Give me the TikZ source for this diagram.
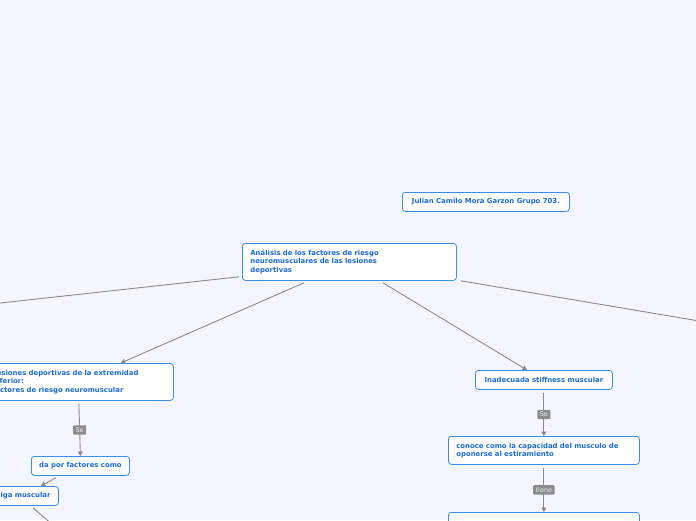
\documentclass[tikz,border=0pt]{standalone}
\usepackage{fontspec}
\setmainfont{DejaVu Sans}
\usetikzlibrary{arrows.meta,positioning,calc}
\definecolor{Paper}{HTML}{F3F6FE}
\definecolor{Edge}{HTML}{3A8EE8}
\definecolor{Ink}{HTML}{1C6BD2}
\definecolor{Wire}{HTML}{8A8A8A}
\definecolor{Tag}{HTML}{8C8C8C}
\tikzset{
  topic/.style={draw=Edge, rounded corners=3pt, fill=white, line width=0.8pt,
    font=\fontsize{6.9}{8.6}\selectfont\bfseries, text=Ink, inner xsep=8pt,
    inner ysep=2pt, anchor=north west, align=#1},
  topic/.default={center},
  link/.style={draw=Wire, line width=0.9pt, -{Triangle[length=4.5pt,width=5pt]}},
  plain/.style={draw=Wire, line width=0.9pt},
}

\begin{document}
\begin{tikzpicture}[x=1pt, y=-1pt,
  tag/.style={fill=Tag, text=white!85!Tag, font=\fontsize{6.5}{7}\selectfont,
    inner xsep=2.5pt, inner ysep=2.2pt, rounded corners=1pt},
]
  \useasboundingbox (0,0) rectangle (696,520);
  \clip (0,0) rectangle (696,520);
  \fill[Paper] (0,0) rectangle (696,520);

  % topics
  \node[topic=left, minimum width=214pt, minimum height=37pt, text width=198pt]
    (main) at (242,243) {Análisis de los factores de riesgo\\neuromusculares de las lesiones\\deportivas};
  \node[topic, minimum width=167pt, minimum height=19pt, inner xsep=2pt]
    (author) at (402,192) {Julian Camilo Mora Garzon Grupo 703.};
  \node[topic=left, minimum width=189pt, minimum height=37pt, text width=173pt]
    (lower) at (-16,363) {Lesiones deportivas de la extremidad\\inferior:\\factores de riesgo neuromuscular};
  \node[topic, minimum width=98pt, minimum height=19pt, inner xsep=2pt]
    (factors) at (31,456) {da por factores como};
  \node[topic, minimum width=78pt, minimum height=19pt, inner xsep=2pt]
    (fatigue) at (-20,486) {Fatiga muscular};
  \node[topic, minimum width=137pt, minimum height=19pt, inner xsep=2pt]
    (stiff) at (475,370) {Inadecuada stiffness muscular};
  \node[topic=left, minimum width=191pt, minimum height=28pt, text width=175pt]
    (resist) at (448,436) {conoce como la capacidad del musculo de\\oponerse al estiramiento};
  \node[topic=left, minimum width=191pt, minimum height=28pt, text width=175pt]
    (next) at (448,512) {};

  % loose ends
  \coordinate (offL) at (-100,314);
  \coordinate (offR) at (800,338);
  \coordinate (offB) at (62,533);

  % connectors
  \draw[plain] ($(main.south west)+(-3,-4)$) -- (offL);
  \draw[plain] ($(main.south east)+(4,0)$) -- (offR);
  \draw[link] ($(main.south west)+(62,2)$) -- ($(lower.north east)+(-53,0)$);
  \draw[link] ($(main.south west)+(141,2)$) -- ($(stiff.north west)+(52,0)$);
  \draw[link] ($(lower.south)+(0,3)$) -- node[tag]{Se} (factors.north);
  \draw[link] ($(factors.south west)+(25,2)$) -- ($(fatigue.north east)+(-18,0)$);
  \draw[plain] ($(fatigue.south west)+(53,2)$) -- (offB);
  \draw[link] ($(stiff.south)+(0,3)$) -- node[tag]{Se} (resist.north);
  \draw[link] ($(resist.south)+(0,3)$) -- node[tag]{tiene} (next.north);
\end{tikzpicture}
\end{document}
